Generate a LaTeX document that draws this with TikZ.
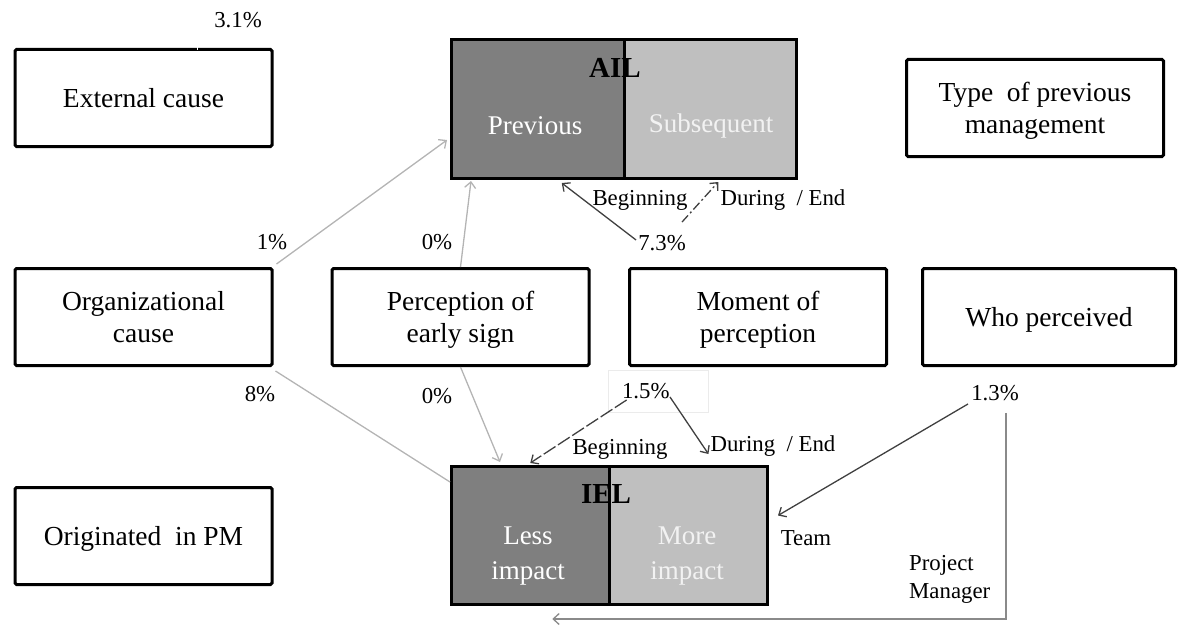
\documentclass[tikz,border=0pt]{standalone}
\usepackage{fontspec}
\setmainfont{Liberation Serif}
\usetikzlibrary{arrows.meta,calc}
\definecolor{darkfill}{HTML}{7F7F7F}
\definecolor{lightfill}{HTML}{BFBFBF}
\definecolor{lightline}{HTML}{B4B4B4}
\definecolor{darkline}{HTML}{404040}
\definecolor{midline}{HTML}{8A8A8A}
\newcommand{\topstrutx}{\rule{0pt}{25.5pt}}
\newcommand{\botstrutx}{\rule[-6.5pt]{0pt}{6.5pt}}
\begin{document}
\begin{tikzpicture}[x=1pt,y=-1pt,
  box/.style={draw=black,line width=3pt,rounded corners=1.5pt,align=center,
    font=\fontsize{27.5}{31.5}\selectfont,inner sep=0pt,minimum width=257pt,minimum height=97pt},
  half/.style={draw=black,line width=3pt,inner sep=0pt},
  lbl/.style={font=\fontsize{22.8}{28}\selectfont,inner sep=0pt,align=left},
  inlbl/.style={font=\fontsize{27}{35}\selectfont,inner sep=0pt,align=center},
  ttl/.style={font=\fontsize{29}{34}\selectfont\bfseries,inner sep=0pt},
  tip/.style={-{Straight Barb[length=6pt,width=11pt]}},
  lightarrow/.style={draw=lightline,line width=1.3pt},
  darkarrow/.style={draw=darkline,line width=1.3pt}]
\useasboundingbox (0,0) rectangle (1178,626);

% boxes
\node[box] (ext) at (143.5,98) {\topstrutx External\ cause\botstrutx};
\node[box] (typ) at (1035,108) {\topstrutx Type\ \ of previous\\management\botstrutx};
\node[box] (org) at (143.5,317) {\topstrutx Organizational\\cause\botstrutx};
\node[box] (per) at (460.5,317) {\topstrutx Perception\ of\\early\ sign\botstrutx};
\node[box] (mom) at (758,317) {\topstrutx Moment\ of\\perception\botstrutx};
\node[box,minimum width=253pt] (who) at (1049,317) {\topstrutx Who perceived\botstrutx};
\node[box] (orig) at (143.5,536) {\topstrutx Originated\ \ in PM\botstrutx};

% AIL
\node[half,fill=darkfill,minimum width=172.5pt,minimum height=139pt] (ailprev) at (537.75,109) {};
\node[half,fill=lightfill,minimum width=172.5pt,minimum height=139pt] (ailsub) at (710.25,109) {};
\node[ttl] (ail) at (615,68) {AIL};
\node[inlbl,text=white] (prevt) at (535,126) {Previous};
\node[inlbl,text=black!5] (subt) at (711,126) {Subsequent};

% IEL
\node[half,fill=darkfill,minimum width=157.5pt,minimum height=138pt] (iless) at (530.25,535.5) {};
\node[half,fill=lightfill,minimum width=158.5pt,minimum height=138pt] (imore) at (688.25,535.5) {};
\node[ttl] (iel) at (606,494) {IEL};
\node[inlbl,text=white] (lesst) at (528,556) {Less\\impact};
\node[inlbl,text=black!5] (moret) at (687,556) {More\\impact};

% labels
\node[lbl] (p31) at (238,20) {3.1\%};
\node[lbl] (p1) at (272,242) {1\%};
\node[lbl] (p0a) at (437,242) {0\%};
\node[lbl] (p8) at (260,394) {8\%};
\node[lbl] (p0b) at (437,396) {0\%};
\node[lbl] (beg1) at (640,200) {Beginning};
\node[lbl] (dur1) at (783,200) {During\ \ / End};
\node[lbl] (p73) at (662,243) {7.3\%};
\node[lbl,draw=black!8,line width=0.8pt,minimum width=100pt,minimum height=42pt,
  inner xsep=14pt,text width=72pt] (p15) at (658,391) {1.5\%};
\node[lbl] (beg2) at (620,449) {Beginning};
\node[lbl] (dur2) at (773,446) {During\ \ / End};
\node[lbl] (p13) at (995,393) {1.3\%};
\node[lbl] (team) at (806,538) {Team};
\node[lbl,anchor=west] (pm) at (909,579) {Project\\Manager};

% connectors
\draw[white,line width=1.2pt] ($(ext.north)+(54,-4)$) -- ($(ext.north)+(54,2)$);
\draw[lightarrow,tip] ($(org.north east)+(3,-3)$) -- ($(ailprev.west)+(-3,31)$);
\draw[lightarrow,tip] (per.north) -- ($(ailprev.south west)+(21,1)$);
\draw[lightarrow] ($(org.south east)+(2,4)$) -- ($(iless.north west)+(0,17)$);
\draw[lightarrow,tip] (per.south) -- ($(iless.north west)+(50,-3)$);
\draw[darkarrow,tip] ($(p73.west)+(-2,-3)$) -- ($(ailprev.south)+(24,3)$);
\draw[darkarrow,tip,dash pattern=on 9pt off 3pt on 2pt off 3pt] ($(p73.north)+(20,-13)$) -- ($(ailsub.south)+(8,2)$);
\draw[darkarrow,tip,dash pattern=on 14pt off 3pt] ($(p15.west)+(19,9)$) -- ($(iless.north)+(0,-2)$);
\draw[darkarrow,tip] ($(p15.center)+(12,6)$) -- ($(dur2.west)+(-2,8)$);
\draw[darkarrow,tip] ($(p13.south west)+(-3,3)$) -- ($(imore.east)+(9,-20)$);
\draw[draw=midline,line width=1.3pt,tip] ($(p13.south)+(11,12)$) |- ($(iless.south)+(22,13)$);
\end{tikzpicture}
\end{document}
